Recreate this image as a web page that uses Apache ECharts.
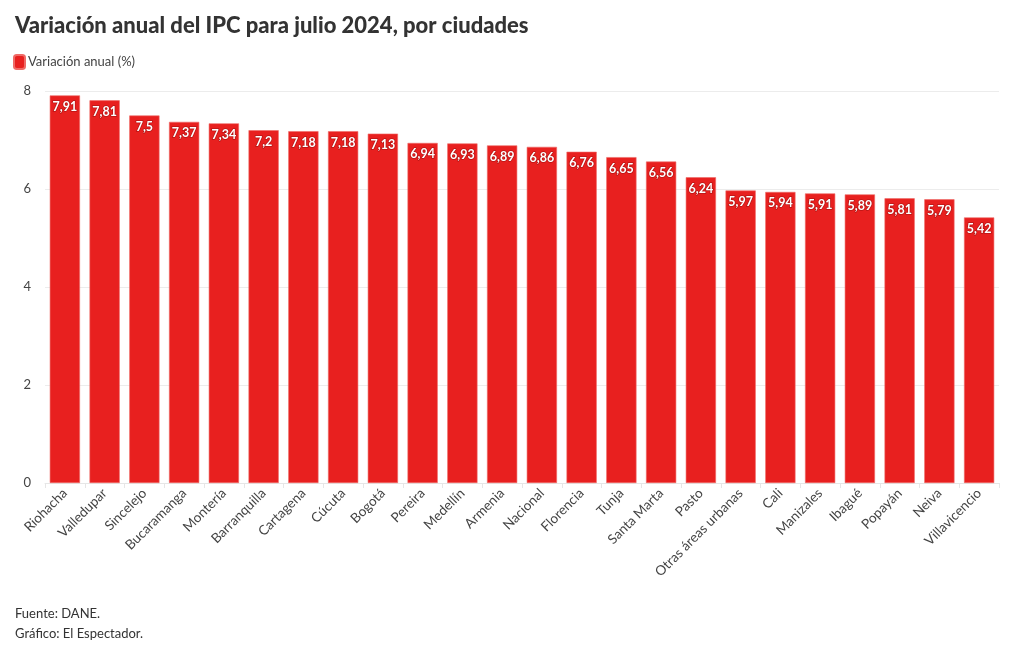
<!DOCTYPE html>
<html>
<head>
<meta charset="utf-8">
<script src="https://cdn.jsdelivr.net/npm/echarts@6/dist/echarts.min.js"></script>
<style>
html,body{margin:0;padding:0;background:#fff;}
#chart{width:1020px;height:650px;}
</style>
</head>
<body>
<div id="chart"></div>
<script>
const categories = ["Riohacha","Valledupar","Sincelejo","Bucaramanga","Montería","Barranquilla","Cartagena","Cúcuta","Bogotá","Pereira","Medellín","Armenia","Nacional","Florencia","Tunja","Santa Marta","Pasto","Otras áreas urbanas","Cali","Manizales","Ibagué","Popayán","Neiva","Villavicencio"];
const values = [7.91,7.81,7.5,7.37,7.34,7.2,7.18,7.18,7.13,6.94,6.93,6.89,6.86,6.76,6.65,6.56,6.24,5.97,5.94,5.91,5.89,5.81,5.79,5.42];
const yTicks = [0,2,4,6,8];
const titleText = "Variación anual del IPC para julio 2024, por ciudades";
const seriesName = "Variación anual (%)";
const footer = ["Fuente: DANE.","Gráfico: El Espectador."];

const FONT = "Lato";
const chart = echarts.init(document.getElementById('chart'), null, {renderer:'canvas'});
chart.setOption({
  animation:false,
  backgroundColor:'#ffffff',
  title:[
    {text:titleText,left:10,top:10,textStyle:{fontFamily:FONT,fontWeight:900,fontSize:22,color:'#333333'}},
    {text:footer.join('\n'),left:10,top:599,textStyle:{fontFamily:FONT,fontWeight:'normal',fontSize:13,color:'#333333',lineHeight:20}}
  ],
  legend:{
    left:8,top:49,itemWidth:11,itemHeight:14,itemGap:4,
    icon:'roundRect',
    textStyle:{fontFamily:FONT,fontSize:13,color:'#444444',padding:[0,0,0,-2]},
    data:[seriesName]
  },
  grid:{left:45,right:21,top:91,bottom:167,containLabel:false},
  xAxis:{
    type:'category',data:categories,
    axisLine:{show:true,lineStyle:{color:'#e6e6e6'}},
    axisTick:{show:true,alignWithLabel:false,lineStyle:{color:'#e6e6e6'}},
    axisLabel:{rotate:45,interval:0,margin:8,fontFamily:FONT,fontSize:13.5,color:'#444444'}
  },
  yAxis:{
    type:'value',min:yTicks[0],max:yTicks[yTicks.length-1],interval:2,
    axisLine:{show:false},
    axisTick:{show:false},
    splitLine:{lineStyle:{color:'#ececec'}},
    axisLabel:{margin:14,fontFamily:FONT,fontSize:13,color:'#444444'}
  },
  series:[{
    name:seriesName,type:'bar',data:values,
    barCategoryGap:'24%',
    itemStyle:{color:'#e8201f',borderColor:'#ef6a66',borderWidth:0.6},
    label:{
      show:true,position:'insideTop',distance:5,
      fontFamily:FONT,fontWeight:'bold',fontSize:12.5,color:'#ffffff',
      textBorderColor:'rgba(90,0,0,0.35)',textBorderWidth:1.5,
      formatter:p=>String(p.value).replace('.',',')
    }
  }]
});
</script>
</body>
</html>
